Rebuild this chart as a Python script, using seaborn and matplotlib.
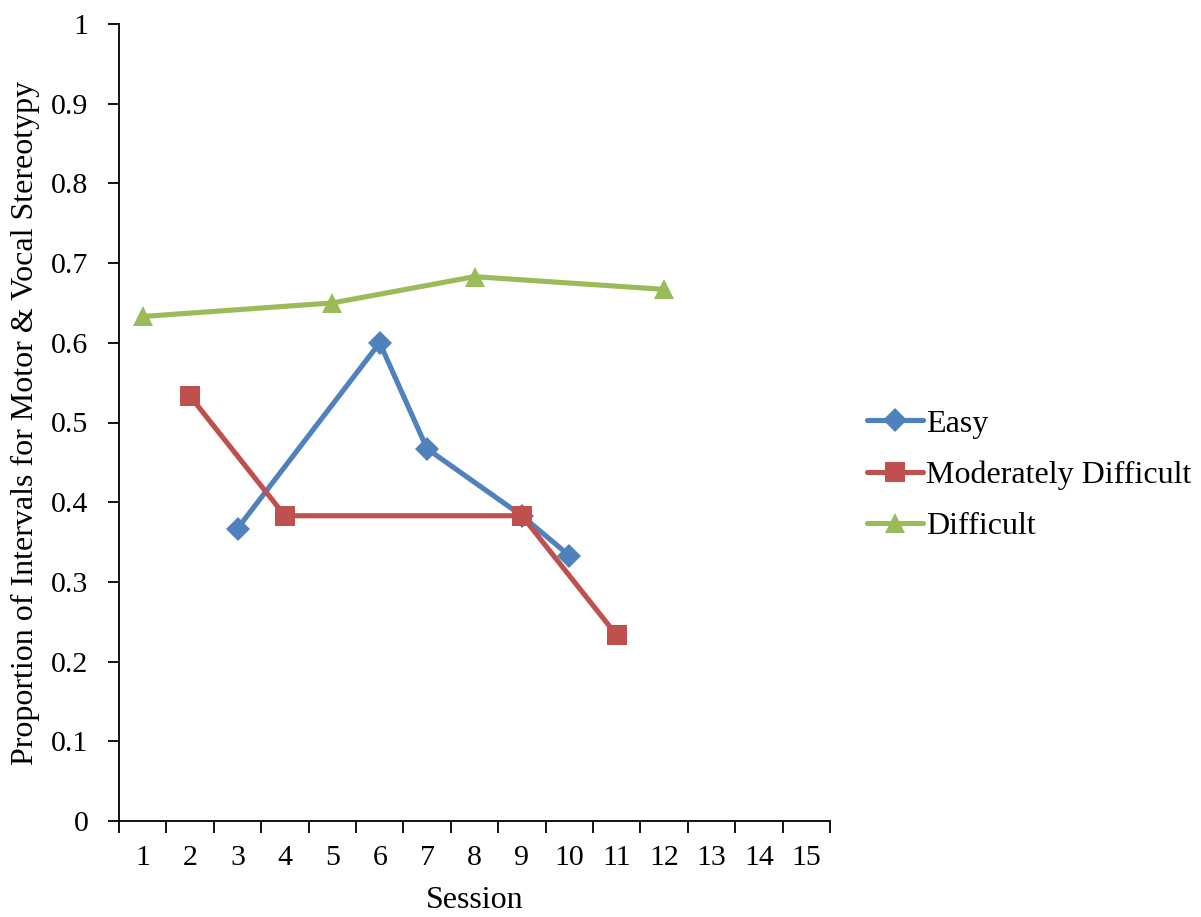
import matplotlib
matplotlib.use("Agg")
import matplotlib.pyplot as plt
import numpy as np
import pandas as pd
import seaborn as sns

# ---- data ----
sessions = list(range(1, 16))
series_names = ["Easy", "Moderately Difficult", "Difficult"]
easy_sessions = [3, 6, 7, 9, 10]
easy_values = [0.367, 0.600, 0.467, 0.383, 0.333]
mod_sessions = [2, 4, 9, 11]
mod_values = [0.533, 0.383, 0.383, 0.233]
diff_sessions = [1, 5, 8, 12]
diff_values = [0.633, 0.650, 0.683, 0.667]
y_ticks = [0, 0.1, 0.2, 0.3, 0.4, 0.5, 0.6, 0.7, 0.8, 0.9, 1.0]
y_tick_labels = ["0", "0.1", "0.2", "0.3", "0.4", "0.5", "0.6", "0.7", "0.8", "0.9", "1"]
x_label = "Session"
y_label = "Proportion of Intervals for Motor & Vocal Stereotypy"

df = pd.concat([
    pd.DataFrame({"Session": easy_sessions, "Value": easy_values, "Series": series_names[0]}),
    pd.DataFrame({"Session": mod_sessions, "Value": mod_values, "Series": series_names[1]}),
    pd.DataFrame({"Session": diff_sessions, "Value": diff_values, "Series": series_names[2]}),
])

FS = 23      # axis titles and legend
TFS = 21.5   # tick labels

sns.set_theme(style="ticks", rc={"text.color": "black", "axes.labelcolor": "black",
                                 "xtick.color": "black", "ytick.color": "black",
                                 "axes.edgecolor": "black"})
plt.rcParams["font.family"] = ["Liberation Serif", "DejaVu Serif"]
plt.rcParams["font.size"] = FS

fig = plt.figure(figsize=(12.01, 9.17), dpi=100)
ax = fig.add_axes([119 / 1201, 1 - 821 / 917, (830 - 119) / 1201, (821 - 24) / 917])

colors = {"Easy": "#4F81BD", "Moderately Difficult": "#C0504D", "Difficult": "#9BBB59"}
markers = {"Easy": "D", "Moderately Difficult": "s", "Difficult": "^"}
msizes = {"Easy": 12.5, "Moderately Difficult": 14.5, "Difficult": 15}

for name in series_names:
    sub = df[df["Series"] == name]
    sns.lineplot(data=sub, x="Session", y="Value", ax=ax, color=colors[name],
                 marker=markers[name], markersize=msizes[name], markeredgewidth=0,
                 linewidth=3.7, label=name, solid_capstyle="round",
                 solid_joinstyle="round", sort=False, errorbar=None)

ax.set_xlim(0.5, 15.5)
ax.set_ylim(0, 1)
ax.set_xticks(sessions)
ax.set_xticklabels([str(s) for s in sessions])
ax.set_xticks(np.arange(0.5, 16, 1.0), minor=True)
ax.set_yticks(y_ticks)
ax.set_yticklabels(y_tick_labels)

ax.tick_params(axis="x", which="major", length=0, pad=17, labelsize=TFS, colors="black")
ax.tick_params(axis="x", which="minor", length=8.5, width=1.3, direction="out", color="black")
ax.tick_params(axis="y", which="major", length=8, width=1.3, direction="out", pad=14,
               labelsize=TFS, colors="black")

for s in ["top", "right"]:
    ax.spines[s].set_visible(False)
for s in ["left", "bottom"]:
    ax.spines[s].set_linewidth(1.3)
    ax.spines[s].set_color("black")

ax.set_xlabel(x_label, fontsize=FS, labelpad=11, color="black")
ax.set_ylabel(y_label, fontsize=FS, labelpad=8, color="black")

leg = ax.legend(loc="center left", bbox_to_anchor=(867 / 1201, 1 - 475 / 917),
                bbox_transform=fig.transFigure, frameon=False, fontsize=FS,
                handlelength=1.75, handletextpad=0.1, labelspacing=0.68,
                borderpad=0, borderaxespad=0)
for t in leg.get_texts():
    t.set_color("black")

fig.savefig("out.png", dpi=100)
